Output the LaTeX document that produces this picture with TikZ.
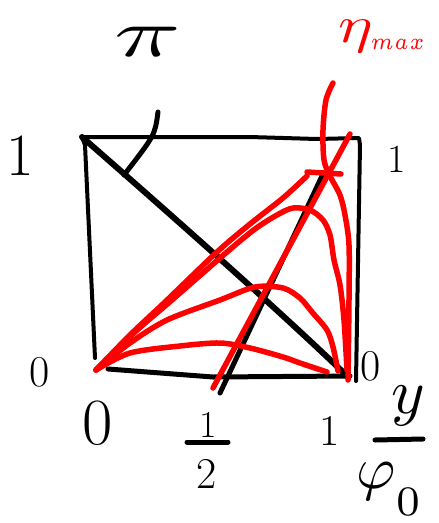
\documentclass[tikz,border=0pt]{standalone}
\usepackage{graphicx}
\begin{document}
\begin{tikzpicture}[x=1pt,y=-1pt,line cap=round,line join=round,
  blk/.style={black,line width=5pt},
  rd/.style={red,line width=5.5pt},
  lbl/.style={inner sep=0pt,outer sep=0pt},
]
\useasboundingbox (0,0) rectangle (439,523);
% frame corners
\coordinate (TL) at (82,137);
\coordinate (TR) at (359,138);
\coordinate (BR) at (356,381);
\coordinate (BL) at (108,369);
\coordinate (LB) at (95,358);
\coordinate (O) at (96,370);
\coordinate (H) at (220,393);
\coordinate (Hr) at (213,388);
% black square
\draw[blk,line width=4pt] (LB) -- (85,145) -- (TL) -- (250,137) -- (317,139) -- (TR) -- (360,145) -- (BR);
\draw[blk] (BL) -- (213,377) -- (350,376);
% diagonal
\draw[blk,line width=6pt] (TL) .. controls (200,240) and (300,330) .. (348,377);
% pi pointer
\coordinate (pa) at (158,112);
\coordinate (pb) at (124,175);
\draw[blk] (pa) .. controls (155,135) .. (pb);
% black line through 1/2
\coordinate (Hb) at (322,176);
\draw[blk] (H) -- (Hb);
% red lines
\coordinate (Rt) at (350,134);
\draw[rd] (Hr) -- (Rt);
\draw[rd] plot[smooth] coordinates {(333,83) (326,100) (323,130) (324,160) (330,176) (340,195) (345,215) (349,245) (349,300) (348,380)};
\draw[rd] plot[smooth] coordinates {(O) (130,335) (165,302) (217,252) (250,224) (283,198) (307,176)};
\draw[rd] (307,172) -- (341,174);
\draw[rd] plot[smooth] coordinates {(O) (135,332) (172,300) (227,252) (255,229) (277,215) (293,208) (310,210) (323,220) (330,235) (334,260) (340,285) (344,320) (347,370)};
\draw[rd] plot[smooth] coordinates {(O) (130,343) (167,320) (220,300) (255,287) (283,288) (300,298) (312,312) (327,330) (333,347) (338,371)};
\draw[rd] plot[smooth] coordinates {(O) (130,353) (180,346) (220,343) (250,348) (283,357) (300,363) (327,372)};
% labels
\node[lbl,xscale=11,yscale=6.8,anchor=base] (pi) at (148,56) {$\pi$};
\node[lbl,font=\fontsize{60}{60}\selectfont] (oneL) at (20,156) {1};
\node[lbl,font=\fontsize{40}{40}\selectfont] (oneR) at (397,159) {1};
\node[lbl,font=\fontsize{44}{44}\selectfont] (zeroL) at (40,372) {0};
\node[lbl,font=\fontsize{44}{44}\selectfont] (zeroR) at (371,366) {0};
\node[lbl,font=\fontsize{66}{66}\selectfont] (zeroB) at (98,423) {0};
\node[lbl,font=\fontsize{38}{38}\selectfont] (halfN) at (208,425) {1};
\draw[blk] (187,442) -- (228,442);
\node[lbl,font=\fontsize{44}{44}\selectfont] (halfD) at (207,474) {2};
\node[lbl,font=\fontsize{44}{44}\selectfont] (oneB) at (330,431) {1};
\node[lbl,scale=6.4] (yv) at (408,406) {$y$};
\draw[blk] (375,440) -- (423,439);
\node[lbl,scale=6,anchor=base] (phi) at (390,488) {$\varphi_{\raisebox{-3pt}{$\scriptstyle 0$}}$};
\node[lbl,red,xscale=6.5,yscale=5.2,anchor=base west] (eta) at (338,42) {$\eta_{\scalebox{0.6}[0.9]{$\scriptscriptstyle max$}}$};
\end{tikzpicture}
\end{document}
